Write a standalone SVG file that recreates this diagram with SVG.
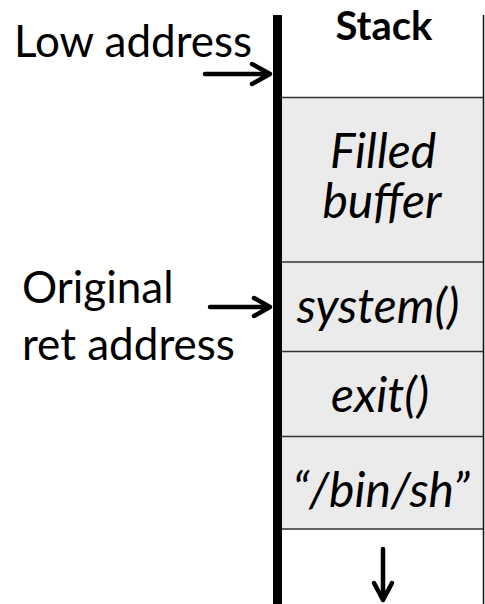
<svg xmlns="http://www.w3.org/2000/svg" width="485" height="604" viewBox="0 0 485 604">
<defs>
<style>
.t{font-family:Lato,"Open Sans","Liberation Sans",sans-serif;fill:#000}
.lab{font-size:44px}
.it{font-size:48px;font-style:italic;text-anchor:middle}
.cell{fill:#ebebeb;stroke:none}
.div{stroke:#333;stroke-width:1.5;fill:none}
.arr{stroke:#000;stroke-width:4.5;fill:none;stroke-linecap:round;stroke-linejoin:round}
</style>
</defs>
<rect width="485" height="604" fill="#fff"/>
<g id="stack">
<rect class="cell" x="281" y="97.5" width="202" height="431.5"/>
<line class="div" x1="281" y1="97.5" x2="483" y2="97.5" stroke="#666"/>
<line class="div" x1="281" y1="262" x2="483" y2="262"/>
<line class="div" x1="281" y1="351.5" x2="483" y2="351.5"/>
<line class="div" x1="281" y1="436.5" x2="483" y2="436.5"/>
<line class="div" x1="281" y1="529" x2="483" y2="529"/>
<line x1="483.5" y1="15" x2="483.5" y2="604" stroke="#111" stroke-width="1.5"/>
<rect x="273" y="15" width="9" height="589" fill="#000"/>
<text class="t" x="384" y="40" font-size="40" font-weight="bold" text-anchor="middle">Stack</text>
</g>
<g id="filled-buffer">
<text class="t it" x="383" y="168" font-size="46">Filled</text>
<text class="t it" x="382" y="218" font-size="46">buffer</text>
</g>
<g id="system">
<text class="t it" x="378" y="323">system()</text>
</g>
<g id="exit">
<text class="t it" x="380" y="412">exit()</text>
</g>
<g id="binsh">
<text class="t it" x="381" y="507">“/bin/sh”</text>
</g>
<g id="low-address">
<text class="t lab" x="14" y="57">Low address</text>
</g>
<g id="orig-ret">
<text class="t lab" x="22" y="303">Original</text>
<text class="t lab" x="22" y="360">ret address</text>
</g>
<g id="connectors">
<path class="arr" d="M205 74 H269 M252 64 L270 74 L252 84"/>
<path class="arr" d="M210 307 H269 M254 298 L270 307 L254 316"/>
<path class="arr" d="M383 549 V600 M374 583 L383 600 L392 583" stroke-width="3.5"/>
</g>
</svg>
